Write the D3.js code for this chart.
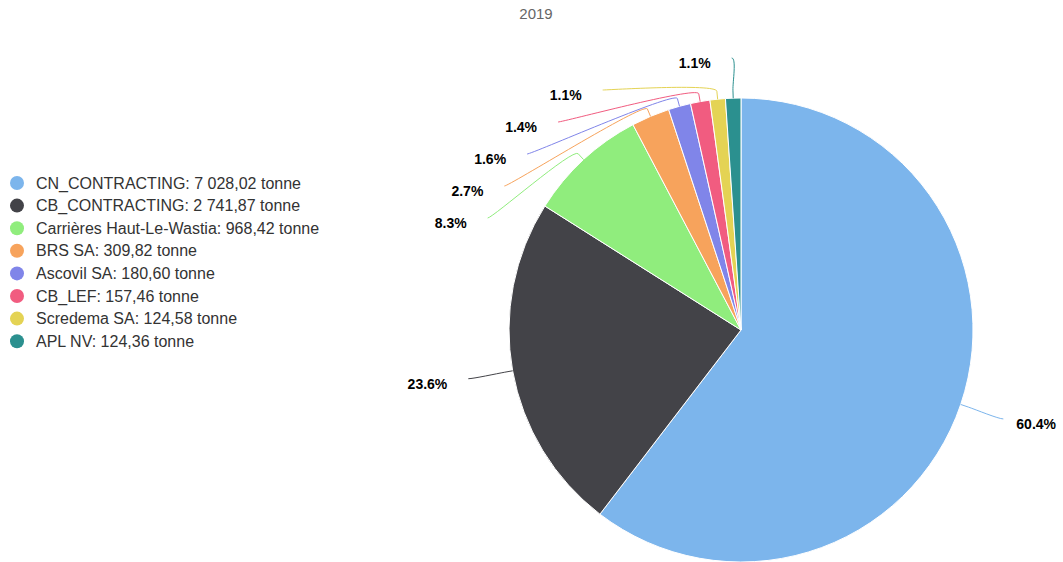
<!DOCTYPE html>
<html><head><meta charset="utf-8">
<script src="https://cdn.jsdelivr.net/npm/d3@7"></script>
<style>html,body{margin:0;padding:0;background:#fff;}svg{display:block;font-family:"Liberation Sans",Arial,Helvetica,sans-serif;}</style>
</head><body>
<svg id="chart" width="1063" height="562"></svg>
<script>
const title = "2019";
const categories = ["CN_CONTRACTING","CB_CONTRACTING","Carrières Haut-Le-Wastia","BRS SA","Ascovil SA","CB_LEF","Scredema SA","APL NV"];
const values = [7028.02, 2741.87, 968.42, 309.82, 180.60, 157.46, 124.58, 124.36];
const valueLabels = ["7 028,02","2 741,87","968,42","309,82","180,60","157,46","124,58","124,36"];
const unit = "tonne";
const colors = ["#7cb5ec","#434348","#90ed7d","#f7a35c","#8085e9","#f15c80","#e4d354","#2b908f"];

const W = 1063, H = 562;
const cx = 741, cy = 330, r = 232;
const labelR = 277, breakOff = 8, minLabelY = 58, labelSpacing = 32;

const svg = d3.select("#chart");

svg.append("text").attr("x", 536).attr("y", 19).attr("text-anchor", "middle")
  .attr("font-size", 15).attr("fill", "#666").text(title);

const data = categories.map((c, i) => ({name: c, value: values[i], vlabel: valueLabels[i], color: colors[i]}));
const total = d3.sum(values);
const pie = d3.pie().sort(null).value(d => d.value).startAngle(0).endAngle(2 * Math.PI);
const arcs = pie(data);
const arc = d3.arc().innerRadius(0).outerRadius(r);

const g = svg.append("g").attr("transform", `translate(${cx},${cy})`);
g.selectAll("path.slice").data(arcs).enter().append("path")
  .attr("class", "slice").attr("d", arc)
  .attr("fill", d => d.data.color).attr("stroke", "#fff").attr("stroke-width", 1).attr("stroke-linejoin", "round");

// label layout
const pct = d3.format(".1f");
const labels = arcs.map(a => {
  const m = (a.startAngle + a.endAngle) / 2;
  return {
    a, m,
    left: Math.sin(m) < 0,
    ny: cy - labelR * Math.cos(m),
    tx: cx + r * Math.sin(m), ty: cy - r * Math.cos(m),
    bx: cx + (r + breakOff) * Math.sin(m), by: cy - (r + breakOff) * Math.cos(m),
    text: pct(a.data.value / total * 100) + "%",
    color: a.data.color
  };
});
[true, false].forEach(side => {
  const s = labels.filter(l => l.left === side).sort((p, q) => p.ny - q.ny);
  let prev = -Infinity;
  s.forEach(l => {
    l.y = Math.max(l.ny, prev + labelSpacing, minLabelY);
    prev = l.y;
    const yy = Math.abs(l.y - l.ny) < 8 ? l.ny : l.y;
    const dy = Math.max(-labelR, Math.min(labelR, yy - cy));
    l.x = cx + (side ? -1 : 1) * Math.sqrt(labelR * labelR - dy * dy);
  });
});

const lg = svg.append("g");
labels.forEach(l => {
  const c1x = l.x + (l.left ? 5 : -5), c1y = l.y;
  const c2x = 2 * l.bx - l.tx, c2y = 2 * l.by - l.ty;
  lg.append("path")
    .attr("d", `M${l.x},${l.y}C${c1x},${c1y} ${c2x},${c2y} ${l.bx},${l.by}L${l.tx},${l.ty}`)
    .attr("fill", "none").attr("stroke", l.color).attr("stroke-width", 1);
  lg.append("text")
    .attr("x", l.left ? l.x - 21 : l.x + 13).attr("y", l.y + 10)
    .attr("text-anchor", l.left ? "end" : "start")
    .attr("font-size", 14).attr("font-weight", "bold").attr("fill", "#000")
    .text(l.text);
});

// legend
const legY0 = 183, legStep = 22.6;
const leg = svg.append("g");
data.forEach((d, i) => {
  const y = legY0 + i * legStep;
  leg.append("circle").attr("cx", 17).attr("cy", y).attr("r", 7).attr("fill", d.color);
  leg.append("text").attr("x", 36).attr("y", y + 5.5).attr("font-size", 16).attr("fill", "#333")
    .text(`${d.name}: ${d.vlabel} ${unit}`);
});
</script>
</body></html>
